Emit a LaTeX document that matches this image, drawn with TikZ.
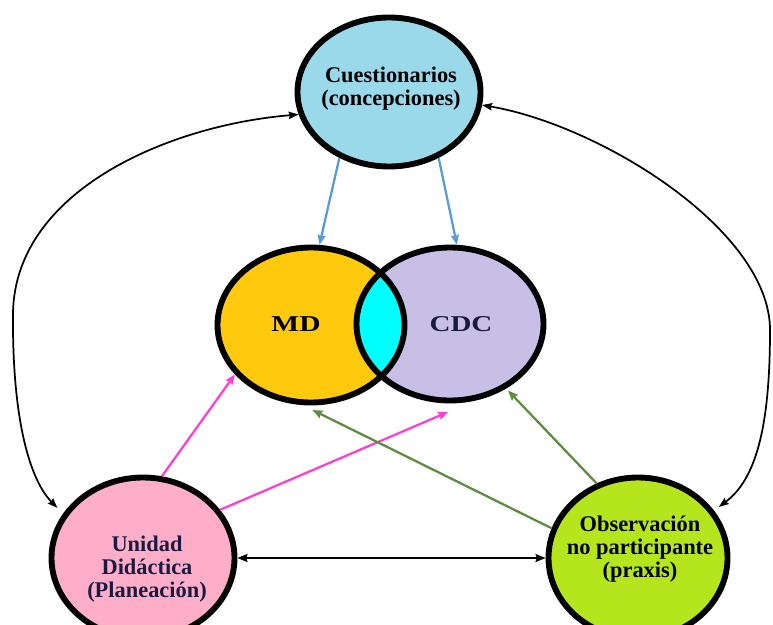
\documentclass[tikz,border=0pt]{standalone}
\usepackage{fontspec}
\setmainfont{Liberation Serif}
\usetikzlibrary{shapes.geometric,arrows.meta}
\definecolor{qcol}{HTML}{99D9EA}
\definecolor{mdcol}{HTML}{FFC90E}
\definecolor{cdccol}{HTML}{C8BFE7}
\definecolor{lenscol}{HTML}{00FFFF}
\definecolor{blcol}{HTML}{FFAEC9}
\definecolor{brcol}{HTML}{B5E61D}
\definecolor{bluearrcol}{HTML}{5B9BD5}
\definecolor{pinkarrcol}{HTML}{FF3FD2}
\definecolor{greenarrcol}{HTML}{5E8C3E}
\definecolor{navytext}{HTML}{1A1A40}
\begin{document}
\begin{tikzpicture}[x=0.75pt,y=-0.75pt,
  bubble/.style={ellipse, draw=black, line width=4.4pt, inner sep=0pt},
  lbl/.style={font=\fontsize{16.8}{17.4}\selectfont\bfseries, align=center, inner sep=0pt},
  bigl/.style={font=\fontsize{17}{18}\selectfont\bfseries, inner sep=0pt},
  ctip/.style={-{Stealth[length=7.5pt,width=6pt,inset=1pt]}},
  bluea/.style={ctip, draw=bluearrcol, line width=1.7pt},
  pinka/.style={ctip, draw=pinkarrcol, line width=1.7pt},
  greena/.style={ctip, draw=greenarrcol, line width=1.7pt},
  blacka/.style={{Stealth[length=7.5pt,width=5.5pt,inset=1pt]}-{Stealth[length=7.5pt,width=5.5pt,inset=1pt]}, draw=black, line width=1.3pt},
  blackh/.style={{Stealth[length=7.5pt,width=6pt,inset=1pt]}-{Stealth[length=7.5pt,width=6pt,inset=1pt]}, draw=black, line width=1.6pt}
]
\useasboundingbox (0,0) rectangle (773,624);
\clip (0,0) rectangle (773,624);

% shapes
\node[bubble, fill=qcol, minimum width=137.25pt, minimum height=111.75pt] (Q) at (389,92) {};
\fill[mdcol] (311,325) ellipse [x radius=93.5, y radius=77.5];
\fill[cdccol] (450,324) ellipse [x radius=93.5, y radius=76.5];
\begin{scope}
  \clip (311,325) ellipse [x radius=93.5, y radius=77.5];
  \fill[lenscol] (450,324) ellipse [x radius=93.5, y radius=76.5];
\end{scope}
\node[bubble, minimum width=140.25pt, minimum height=116.25pt] (MD) at (311,325) {};
\node[bubble, minimum width=140.25pt, minimum height=114.75pt] (CDC) at (450,324) {};
\node[bubble, fill=blcol, minimum width=137.25pt, minimum height=120.75pt] (BL) at (143,558) {};
\node[bubble, fill=brcol, minimum width=134.25pt, minimum height=120.75pt] (BR) at (638,558) {};

% labels
\node[lbl] (Qt) at (391,89) {Cuestionarios\\(concepciones)};
\node[bigl] (MDt) at (296,324.5) {\scalebox{1.3}[1]{MD}};
\node[bigl, text=navytext] (CDCt) at (461,324.5) {\scalebox{1.28}[1]{CDC}};
\node[lbl, text=navytext] (BLt) at (147,569) {Unidad\\Didáctica\\(Planeación)};
\node[lbl] (BRt) at (640,549) {Observación\\no participante\\(praxis)};

% straight connectors
\draw[bluea] (Q.-127) -- (MD.84.5);
\draw[bluea] (Q.-53.3) -- (CDC.85.1);
\draw[pinka] (BL.77.5) -- (MD.-147);
\draw[pinka, shorten >=20.6pt] (BL.32.8) -- (CDC.-73.8);
\draw[greena, shorten >=2pt] (BR.119.8) -- (CDC.-49.7);
\draw[greena, shorten >=8.25pt] (BR.161.8) -- (MD.-96.3);
\draw[blackh] (BL.east) -- (BR.west);

% curved connectors
\coordinate (Lm) at (13,313);
\coordinate (Rm) at (770,330);
\draw[blacka, shorten >=6pt] (Q.-166) .. controls (170,125) and (15,190) .. (Lm)
      .. controls (12,420) and (30,480) .. (BL.151.4);
\draw[blacka, shorten >=4.5pt] (Q.-8) .. controls (600,125) and (770,230) .. (Rm)
      .. controls (770,430) and (755,480) .. (BR.32.9);
\end{tikzpicture}
\end{document}
